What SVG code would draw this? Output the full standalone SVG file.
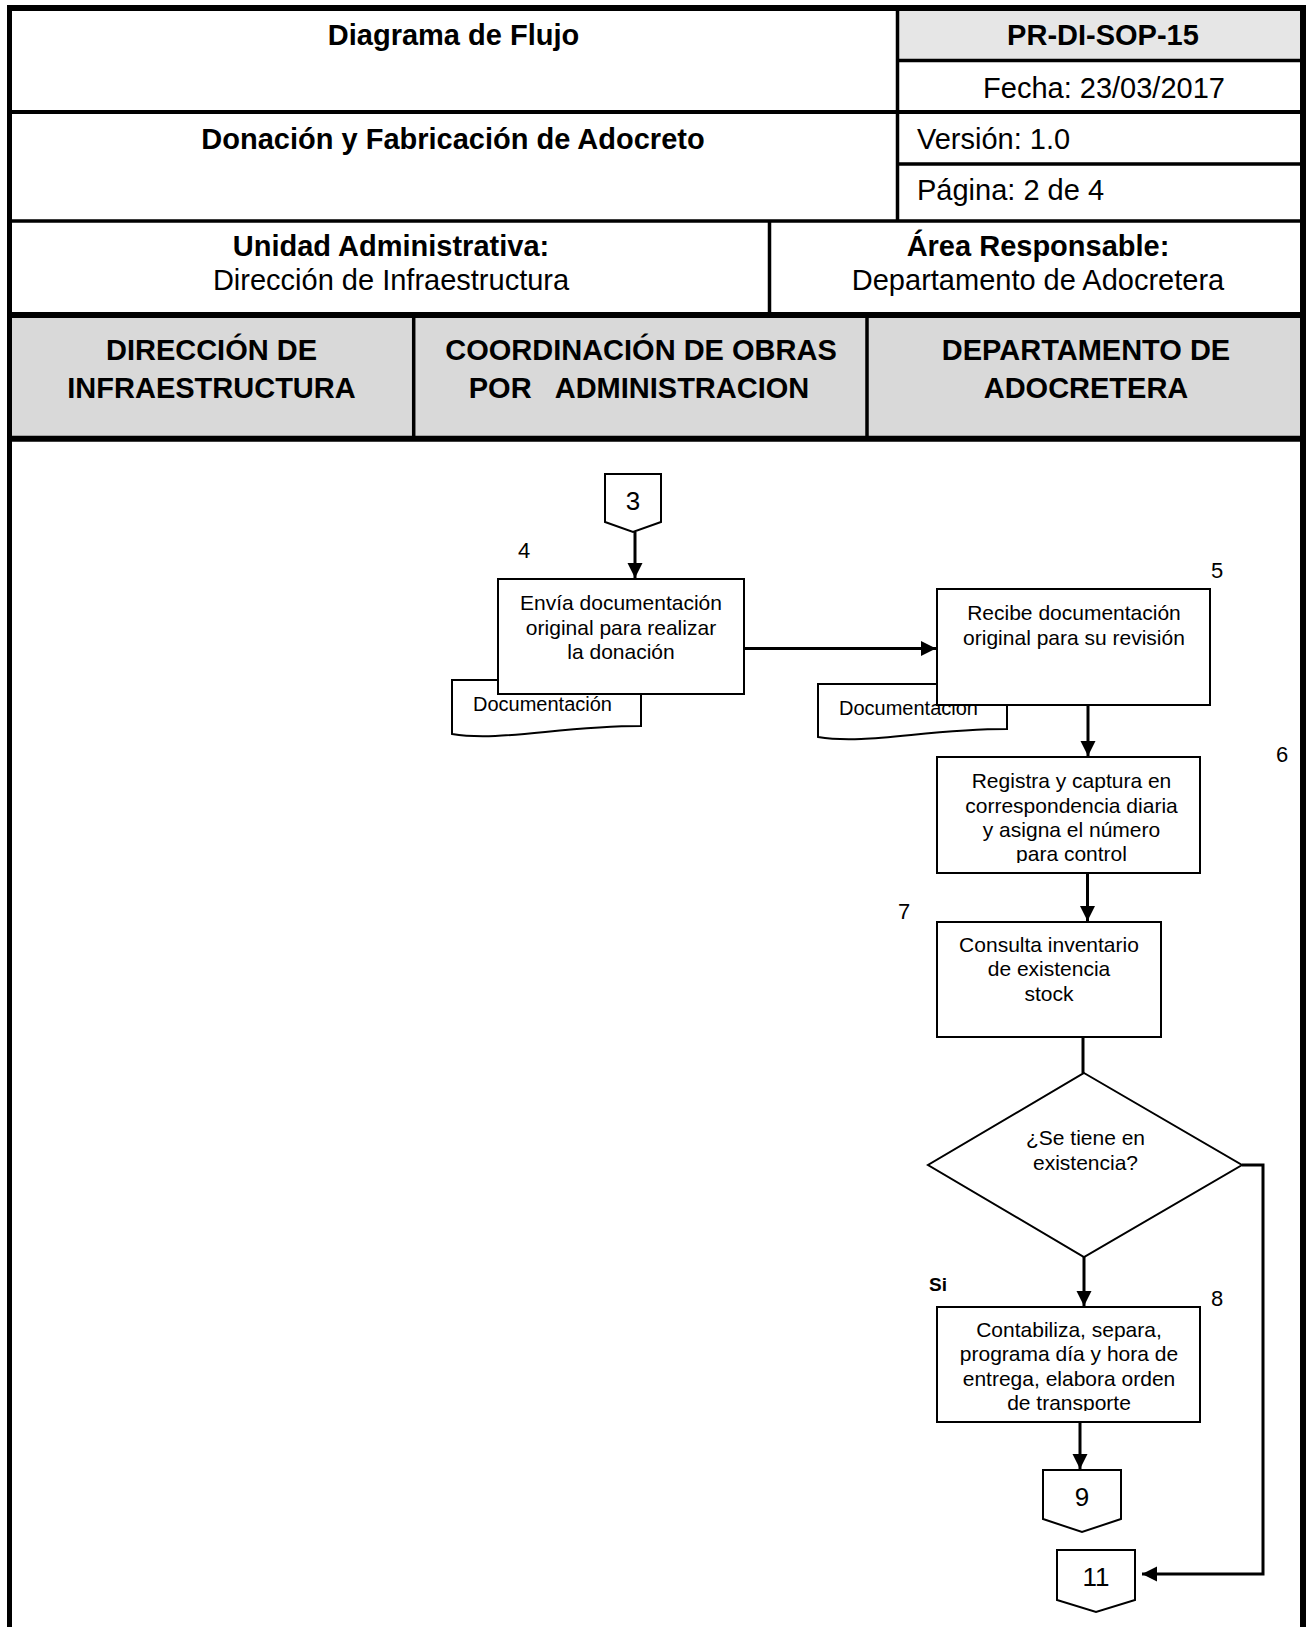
<svg xmlns="http://www.w3.org/2000/svg" width="1306" height="1627" viewBox="0 0 1306 1627">
<style>
text { font-family: "Liberation Sans", Arial, sans-serif; fill: #000; }
.hb { font-size: 29px; font-weight: bold; }
.hr { font-size: 29px; }
.t { font-size: 21px; }
.doc { font-size: 20px; }
.n { font-size: 22px; }
.c { font-size: 26px; }
.m { text-anchor: middle; }
.shape { fill: #fff; stroke: #000; stroke-width: 2; }
.tbl { stroke: #000; fill: none; }
.edge { stroke: #000; stroke-width: 3; fill: none; }
</style>
<defs>
<marker id="arr" markerUnits="userSpaceOnUse" markerWidth="16" markerHeight="16" refX="15" refY="7.5" orient="auto">
<path d="M0,0 L15,7.5 L0,15 Z" fill="#000"/>
</marker>
<clipPath id="clip6"><rect x="937" y="757" width="263" height="106"/></clipPath>
<clipPath id="clip8"><rect x="937" y="1307" width="263" height="104"/></clipPath>
</defs>
<rect width="1306" height="1627" fill="#fff"/>

<g id="header">
<rect x="899" y="11" width="401" height="48" fill="#e6e6e6"/>
<rect x="12" y="318" width="1288" height="118" fill="#d9d9d9"/>
<path class="tbl" stroke-width="5" d="M9.5,5 V1627"/>
<path class="tbl" stroke-width="6" d="M1303,5 V1627"/>
<path class="tbl" stroke-width="6" d="M7,8 H1306"/>
<path class="tbl" stroke-width="4" d="M9.5,112 H1303"/>
<path class="tbl" stroke-width="3.5" d="M897.5,60.5 H1303 M897.5,164 H1303 M897.5,8 V221 M9.5,221 H1303 M769.5,221 V315"/>
<path class="tbl" stroke-width="6" d="M7,315 H1306 M7,438.7 H1306"/>
<path class="tbl" stroke-width="3.5" d="M413.7,315 V438 M867,315 V438"/>
<text class="hb m" x="453.5" y="45">Diagrama de Flujo</text>
<text class="hb m" x="1103" y="45">PR-DI-SOP-15</text>
<text class="hr m" x="1104" y="98">Fecha: 23/03/2017</text>
<text class="hb m" x="453" y="149">Donación y Fabricación de Adocreto</text>
<text class="hr" x="917" y="149">Versión: 1.0</text>
<text class="hr" x="917" y="200">Página: 2 de 4</text>
<text class="hb m" x="391" y="256">Unidad Administrativa:</text>
<text class="hr m" x="391" y="290">Dirección de Infraestructura</text>
<text class="hb m" x="1038" y="256">Área Responsable:</text>
<text class="hr m" x="1038" y="290">Departamento de Adocretera</text>
<text class="hb m" x="211.5" y="360">DIRECCIÓN DE</text>
<text class="hb m" x="211.5" y="398">INFRAESTRUCTURA</text>
<text class="hb m" x="641" y="360">COORDINACIÓN DE OBRAS</text>
<text class="hb m" x="639" y="398" xml:space="preserve">POR   ADMINISTRACION</text>
<text class="hb m" x="1086" y="360">DEPARTAMENTO DE</text>
<text class="hb m" x="1086" y="398">ADOCRETERA</text>
</g>

<g id="connectors">
<path class="edge" d="M635,532 V578" marker-end="url(#arr)"/>
<path class="edge" d="M744,648.5 H936" marker-end="url(#arr)"/>
<path class="edge" d="M1088,705 V756" marker-end="url(#arr)"/>
<path class="edge" d="M1087.5,873 V921" marker-end="url(#arr)"/>
<path class="edge" d="M1083,1037 V1073"/>
<path class="edge" d="M1084,1257 V1306" marker-end="url(#arr)"/>
<path class="edge" d="M1080,1422 V1469" marker-end="url(#arr)"/>
<path class="edge" d="M1242,1165 H1263 V1574 H1142" marker-end="url(#arr)"/>
</g>

<g id="off3">
<path class="shape" d="M605,474 H661 V522 L633,532 L605,522 Z"/>
<text class="c m" x="633" y="510">3</text>
</g>

<g id="doc4">
<path class="shape" d="M452,680 H641 V726 C560,726 500,742 452,734 Z"/>
<text class="doc" x="473" y="711">Documentación</text>
</g>

<g id="doc5">
<path class="shape" d="M818,684 H1007 V729 C926,729 866,745 818,737 Z"/>
<text class="doc" x="839" y="715">Documentación</text>
</g>

<g id="step4">
<rect class="shape" x="498" y="579" width="246" height="115"/>
<text class="t m" x="621" y="610">Envía documentación</text>
<text class="t m" x="621" y="634.5">original para realizar</text>
<text class="t m" x="621" y="659">la donación</text>
<text class="n" x="518" y="558">4</text>
</g>

<g id="step5">
<rect class="shape" x="937" y="589" width="273" height="116"/>
<text class="t m" x="1074" y="620">Recibe documentación</text>
<text class="t m" x="1074" y="645">original para su revisión</text>
<text class="n m" x="1217" y="578">5</text>
</g>

<g id="step6">
<rect class="shape" x="937" y="757" width="263" height="116"/>
<g clip-path="url(#clip6)">
<text class="t m" x="1071.5" y="788">Registra y captura en</text>
<text class="t m" x="1071.5" y="812.5">correspondencia diaria</text>
<text class="t m" x="1071.5" y="836.5">y asigna el número</text>
<text class="t m" x="1071.5" y="860.5">para control</text>
</g>
<text class="n m" x="1282" y="762">6</text>
</g>

<g id="step7">
<rect class="shape" x="937" y="922" width="224" height="115"/>
<text class="t m" x="1049" y="952">Consulta inventario</text>
<text class="t m" x="1049" y="976">de existencia</text>
<text class="t m" x="1049" y="1000.5">stock</text>
<text class="n m" x="904" y="919">7</text>
</g>

<g id="decision">
<path class="shape" d="M1084,1073 L1242,1165 L1084,1257 L928,1165 Z"/>
<text class="t m" x="1085.5" y="1145">¿Se tiene en</text>
<text class="t m" x="1085.5" y="1169.5">existencia?</text>
<text x="929" y="1291" font-size="19" font-weight="bold">Si</text>
</g>

<g id="step8">
<rect class="shape" x="937" y="1307" width="263" height="115"/>
<g clip-path="url(#clip8)">
<text class="t m" x="1069" y="1337">Contabiliza, separa,</text>
<text class="t m" x="1069" y="1361">programa día y hora de</text>
<text class="t m" x="1069" y="1385.5">entrega, elabora orden</text>
<text class="t m" x="1069" y="1409.5">de transporte</text>
</g>
<text class="n m" x="1217" y="1306">8</text>
</g>

<g id="off9">
<path class="shape" d="M1043,1470 H1121 V1519 L1082,1532 L1043,1519 Z"/>
<text class="c m" x="1082" y="1506">9</text>
</g>

<g id="off11">
<path class="shape" d="M1057,1550 H1135 V1600 L1096,1612 L1057,1600 Z"/>
<text class="c m" x="1096" y="1586">11</text>
</g>
</svg>
